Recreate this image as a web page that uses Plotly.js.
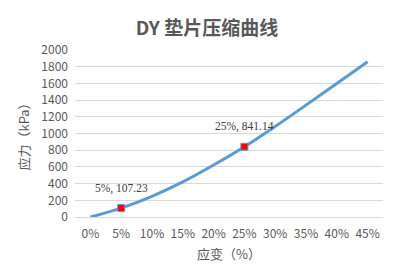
<!DOCTYPE html>
<html>
<head>
<meta charset="utf-8">
<script src="https://cdn.plot.ly/plotly-3.0.1.min.js"></script>
<style>html,body{margin:0;padding:0;background:#fff;}#chart{width:398px;height:280px;}</style>
</head>
<body>
<div id="chart"></div>
<script>
const strain = [0, 5, 10, 15, 20, 25, 30, 35, 40, 45];
const tickLabels = ["0%", "5%", "10%", "15%", "20%", "25%", "30%", "35%", "40%", "45%"];
const stress = [0, 107.23, 248, 420, 622, 841.14, 1085, 1340, 1600, 1860];
const markStrain = [5, 25];
const markStress = [107.23, 841.14];
const markLabels = ["5%, 107.23", "25%, 841.14"];

const gray = "#595959";
const cjk = "'Microsoft YaHei', 'Noto Sans CJK SC', 'Noto Sans', sans-serif";

const traces = [
  {x: strain, y: stress, type: "scatter", mode: "lines",
   line: {color: "#5B9BD5", width: 3, shape: "spline", smoothing: 1}, hoverinfo: "skip"},
  {x: markStrain, y: markStress, type: "scatter", mode: "markers",
   marker: {symbol: "square", size: 7, color: "#FF0000", line: {color: "#5B9BD5", width: 1}}}
];

const annotations = markStrain.map((x, i) => ({
  x: x, y: markStress[i], text: markLabels[i], showarrow: false, yshift: 20,
  font: {family: "'Liberation Serif', 'Times New Roman', serif", size: 11.5, color: "#404040"}
}));

const layout = {
  width: 398, height: 280,
  margin: {l: 75, r: 15, t: 50, b: 63},
  paper_bgcolor: "#fff", plot_bgcolor: "#fff",
  showlegend: false,
  title: {text: "<b>DY 垫片压缩曲线</b>", x: 0.52, xanchor: "center", y: 0.9, yanchor: "middle",
          font: {family: cjk, size: 19, color: gray}},
  xaxis: {range: [-2.5, 47.5], tickvals: strain, ticktext: tickLabels, showgrid: false, zeroline: false,
          showline: true, linecolor: "#D9D9D9", linewidth: 1, ticks: "", ticklabelstandoff: 6,
          tickfont: {family: cjk, size: 12, color: gray},
          title: {text: "应变（%）", standoff: 9, font: {family: cjk, size: 13, color: gray}}},
  yaxis: {range: [0, 2000], dtick: 200, showgrid: true, gridcolor: "#D9D9D9", gridwidth: 1, zeroline: false,
          showline: false, ticks: "", ticklabelstandoff: 6,
          tickfont: {family: cjk, size: 12, color: gray},
          title: {text: "应力（kPa）", standoff: 8, font: {family: cjk, size: 13, color: gray}}},
  annotations: annotations
};

Plotly.newPlot("chart", traces, layout, {displayModeBar: false, staticPlot: true});
</script>
</body>
</html>
